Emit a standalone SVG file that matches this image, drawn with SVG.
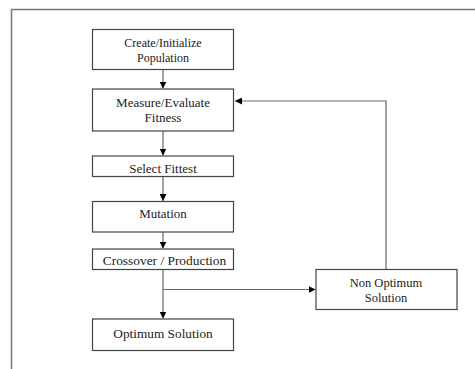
<svg xmlns="http://www.w3.org/2000/svg" width="475" height="369" viewBox="0 0 475 369">
<defs>
<style>
.box{fill:#fff;stroke:#444;stroke-width:1.2}
.t{font-family:"Liberation Serif","Times New Roman",serif;font-size:13px;fill:#222;text-anchor:middle}
.s{font-size:12px}
.c{fill:none;stroke:#666;stroke-width:1.2}
.frame{fill:none;stroke:#777;stroke-width:1.5}
</style>
<marker id="ah" viewBox="0 0 8 8" refX="8" refY="4" markerWidth="7" markerHeight="7" markerUnits="userSpaceOnUse" orient="auto">
<path d="M0,0 L8,4 L0,8 Z" fill="#000"/>
</marker>
</defs>
<rect width="475" height="369" fill="#fff"/>
<path class="frame" d="M11.5,369 V9.5 H475"/>
<g id="connectors">
<path class="c" d="M163,69 V88.5" marker-end="url(#ah)"/>
<path class="c" d="M163,131 V155.5" marker-end="url(#ah)"/>
<path class="c" d="M163,177 V201" marker-end="url(#ah)"/>
<path class="c" d="M163,232 V248.5" marker-end="url(#ah)"/>
<path class="c" d="M163,269.5 V318.5" marker-end="url(#ah)"/>
<path class="c" d="M163,289.5 H315.5" marker-end="url(#ah)"/>
<path class="c" d="M386,269.5 V101 H235" marker-end="url(#ah)"/>
</g>
<g id="create">
<rect class="box" x="92.5" y="29.5" width="141" height="40"/>
<text class="t s" x="163" y="47">Create/Initialize</text>
<text class="t s" x="163" y="61.5">Population</text>
</g>
<g id="measure">
<rect class="box" x="92.5" y="89" width="141" height="42"/>
<text class="t" x="163" y="106.5">Measure/Evaluate</text>
<text class="t" x="163" y="122">Fitness</text>
</g>
<g id="select">
<rect class="box" x="92.5" y="156" width="141" height="20.5"/>
<text class="t" x="163" y="173">Select Fittest</text>
</g>
<g id="mutation">
<rect class="box" x="92.5" y="201.5" width="141" height="30.5"/>
<text class="t" x="163" y="218">Mutation</text>
</g>
<g id="crossover">
<rect class="box" x="92.5" y="249" width="141" height="20.5"/>
<text class="t" x="164.5" y="265" style="font-size:13.4px">Crossover / Production</text>
</g>
<g id="optimum">
<rect class="box" x="92.5" y="319" width="141" height="31.5"/>
<text class="t" x="163" y="337.5" style="font-size:13.3px">Optimum Solution</text>
</g>
<g id="nonoptimum">
<rect class="box" x="316" y="269.5" width="141" height="40"/>
<text class="t" x="386" y="286.5" style="font-size:12.5px">Non Optimum</text>
<text class="t" x="386" y="301.5" style="font-size:12.5px">Solution</text>
</g>
</svg>
